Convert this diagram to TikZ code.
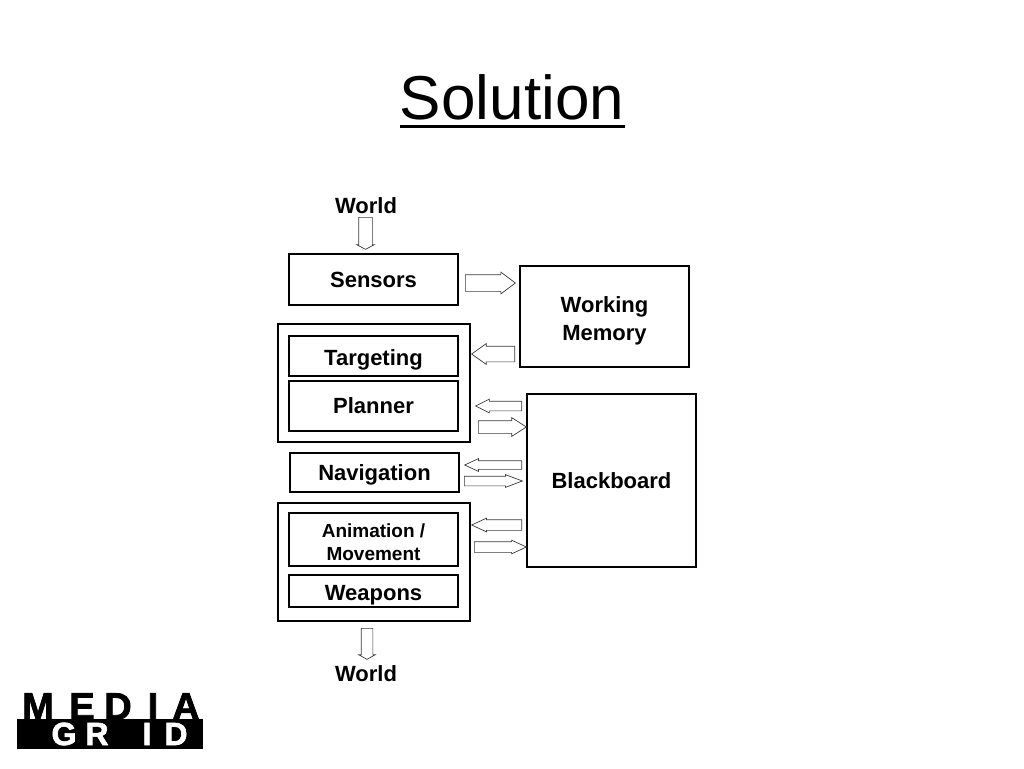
\documentclass[tikz,border=0pt]{standalone}
\usepackage{fontspec}
\setmainfont{Liberation Sans}
\newfontfamily\logofont[BoldFeatures={FakeBold=2}]{Liberation Sans}
\usetikzlibrary{shapes.arrows}
\definecolor{inkP}{HTML}{000000}
\definecolor{arrowL}{HTML}{3A3A3A}
\tikzset{
  modbox/.style={draw=inkP, line width=1.2pt, fill=white, font=\fontsize{22}{27}\selectfont\bfseries,
                 align=center, inner sep=0pt, text depth=0pt},
  groupbox/.style={draw=inkP, line width=1.6pt, inner sep=0pt},
  worldlab/.style={font=\fontsize{22}{26}\selectfont\bfseries, inner sep=0pt},
  blockarrow/.style={draw=arrowL, line width=0.7pt, fill=white, single arrow, inner xsep=0pt, anchor=tail},
  logotop/.style={font=\logofont\fontsize{38}{38}\selectfont\bfseries, inner sep=0pt, anchor=base},
  logolow/.style={font=\logofont\fontsize{32}{32}\selectfont\bfseries, inner sep=0pt, anchor=base, text=white},
}
\newcommand{\boxat}[6]{\node[#6, minimum width=#4-#2, minimum height=#5-#3] (#1) at ({(#2+#4)/2},{(#3+#5)/2})}
\newcommand{\arrowat}[7]{\pgfmathsetmacro{\tipang}{2*atan(#4/2/#6)}%
  \pgfmathsetmacro{\headext}{(#4-#5)/2}%
  \node[blockarrow, minimum height=#3, inner ysep=#5/2, single arrow head extend=\headext pt,
        single arrow tip angle=\tipang, rotate=#7] (#1) at (#2) {}}
\begin{document}
\begin{tikzpicture}[x=1pt, y=-1pt]
  \useasboundingbox (0,0) rectangle (1024,768);
  % title
  \node[font=\fontsize{62}{70}\selectfont, inner sep=0pt] (title) at (512,97) {Solution};
  \coordinate (ulL) at (400,126);
  \coordinate (ulR) at (625,126);
  \draw[line width=3pt] (ulL) -- (ulR);
  % groups
  \boxat{grpPlan}{278}{324}{470}{442}{groupbox} {};
  \boxat{grpAct}{278}{503}{470}{621}{groupbox} {};
  % modules
  \boxat{sensors}{289}{254}{458}{305}{modbox} {Sensors};
  \boxat{target}{289}{336}{458}{376}{modbox, text height=18pt} {Targeting};
  \boxat{planner}{289}{381}{458}{431}{modbox} {Planner};
  \boxat{navig}{290}{453}{459}{492}{modbox} {Navigation};
  \boxat{anim}{289}{513}{458}{566}{modbox, font=\fontsize{19}{23}\selectfont\bfseries, text height=41pt} {Animation /\\Movement};
  \boxat{weapons}{289}{575}{458}{607}{modbox, text height=19.5pt} {Weapons};
  \boxat{wmem}{520}{266}{689}{367}{modbox, text height=47pt} {Working\\[1pt]Memory};
  \boxat{bboard}{527}{394}{696}{567}{modbox} {Blackboard};
  % world
  \node[worldlab] (worldIn) at (366,206) {World};
  \node[worldlab] (worldOut) at (366,674) {World};
  % arrows
  \arrowat{aIn}{365.5,217}{32}{17}{13}{4.5}{-90};
  \arrowat{aSens}{465,283}{50}{21}{16}{14}{0};
  \arrowat{aTarg}{515,354}{43}{20}{15}{14}{180};
  \arrowat{aPlanL}{522,406}{46}{13}{9}{13}{180};
  \arrowat{aPlanR}{478,427}{48}{18}{12}{14}{0};
  \arrowat{aNavL}{522,465}{57}{12}{8}{13}{180};
  \arrowat{aNavR}{464,481}{58}{12}{9}{16}{0};
  \arrowat{aAnimL}{522,525}{50}{13}{10}{14}{180};
  \arrowat{aAnimR}{474,547}{52}{13}{10}{14}{0};
  \arrowat{aOut}{367,628}{31}{16}{11}{4.5}{-90};
  % logo
  \fill (17,719) rectangle (203,749);
  \node[logotop] (lM) at (38,719.5) {M};
  \node[logotop] (lE) at (82,719.5) {E};
  \node[logotop] (lD) at (118,719.5) {D};
  \node[logotop] (lI) at (153,719.5) {I};
  \node[logotop] (lA) at (186,719.5) {A};
  \node[logolow] (lG) at (64,745) {G};
  \node[logolow] (lR) at (97,745) {R};
  \node[logolow] (lI2) at (147,745) {I};
  \node[logolow] (lD2) at (176,745) {D};
\end{tikzpicture}
\end{document}
